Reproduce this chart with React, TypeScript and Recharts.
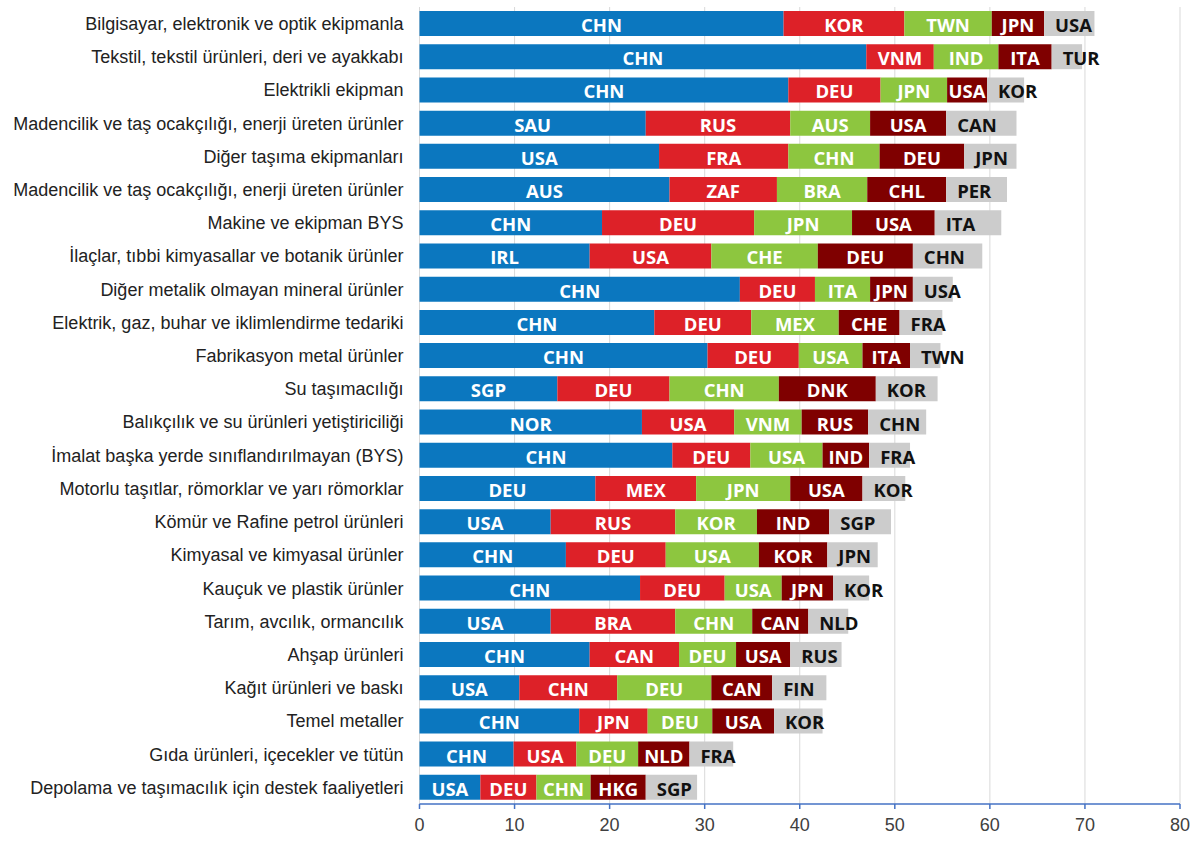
import { BarChart, Bar, XAxis, YAxis, CartesianGrid, LabelList } from "recharts";

const categories = [
    "Bilgisayar, elektronik ve optik ekipmanla",
    "Tekstil, tekstil ürünleri, deri ve ayakkabı",
    "Elektrikli ekipman",
    "Madencilik ve taş ocakçılığı, enerji üreten ürünler",
    "Diğer taşıma ekipmanları",
    "Madencilik ve taş ocakçılığı, enerji üreten ürünler ",
    "Makine ve ekipman BYS",
    "İlaçlar, tıbbi kimyasallar ve botanik ürünler",
    "Diğer metalik olmayan mineral ürünler",
    "Elektrik, gaz, buhar ve iklimlendirme tedariki",
    "Fabrikasyon metal ürünler",
    "Su taşımacılığı",
    "Balıkçılık ve su ürünleri yetiştiriciliği",
    "İmalat başka yerde sınıflandırılmayan (BYS)",
    "Motorlu taşıtlar, römorklar ve yarı römorklar",
    "Kömür ve Rafine petrol ürünleri",
    "Kimyasal ve kimyasal ürünler",
    "Kauçuk ve plastik ürünler",
    "Tarım, avcılık, ormancılık",
    "Ahşap ürünleri",
    "Kağıt ürünleri ve baskı",
    "Temel metaller",
    "Gıda ürünleri, içecekler ve tütün",
    "Depolama ve taşımacılık için destek faaliyetleri",
];

// share of the 1st..5th largest exporter
const first = [38.3, 47.0, 38.8, 23.8, 25.2, 26.3, 19.2, 17.9, 33.7, 24.7, 30.3, 14.5, 23.4, 26.6, 18.5, 13.8, 15.4, 23.2, 13.8, 17.9, 10.5, 16.8, 9.9, 6.4];
const second = [12.7, 7.1, 9.7, 15.2, 13.6, 11.3, 16.0, 12.8, 7.9, 10.2, 9.6, 11.8, 9.7, 8.2, 10.6, 13.1, 10.5, 8.9, 13.1, 9.4, 10.3, 7.2, 6.6, 5.9];
const third = [9.2, 6.8, 7.0, 8.4, 9.6, 9.5, 10.3, 11.2, 5.8, 9.2, 6.7, 11.5, 7.1, 7.6, 9.9, 8.6, 9.8, 6.0, 8.1, 6.0, 9.9, 6.8, 6.5, 5.7];
const fourth = [5.5, 5.6, 4.2, 8.0, 8.9, 8.3, 8.7, 10.0, 4.5, 6.4, 5.0, 10.2, 7.0, 4.9, 7.6, 7.6, 7.2, 5.4, 5.9, 5.7, 6.4, 6.5, 5.4, 5.8];
const fifth = [5.3, 3.2, 3.9, 7.4, 5.5, 6.4, 7.0, 7.3, 4.2, 4.5, 3.2, 6.5, 6.1, 4.3, 4.5, 6.5, 5.3, 3.8, 4.2, 5.4, 5.7, 5.1, 4.6, 5.4];

const firstCountry = ["CHN", "CHN", "CHN", "SAU", "USA", "AUS", "CHN", "IRL", "CHN", "CHN", "CHN", "SGP", "NOR", "CHN", "DEU", "USA", "CHN", "CHN", "USA", "CHN", "USA", "CHN", "CHN", "USA"];
const secondCountry = ["KOR", "VNM", "DEU", "RUS", "FRA", "ZAF", "DEU", "USA", "DEU", "DEU", "DEU", "DEU", "USA", "DEU", "MEX", "RUS", "DEU", "DEU", "BRA", "CAN", "CHN", "JPN", "USA", "DEU"];
const thirdCountry = ["TWN", "IND", "JPN", "AUS", "CHN", "BRA", "JPN", "CHE", "ITA", "MEX", "USA", "CHN", "VNM", "USA", "JPN", "KOR", "USA", "USA", "CHN", "DEU", "DEU", "DEU", "DEU", "CHN"];
const fourthCountry = ["JPN", "ITA", "USA", "USA", "DEU", "CHL", "USA", "DEU", "JPN", "CHE", "ITA", "DNK", "RUS", "IND", "USA", "IND", "KOR", "JPN", "CAN", "USA", "CAN", "USA", "NLD", "HKG"];
const fifthCountry = ["USA", "TUR", "KOR", "CAN", "JPN", "PER", "ITA", "CHN", "USA", "FRA", "TWN", "KOR", "CHN", "FRA", "KOR", "SGP", "JPN", "KOR", "NLD", "RUS", "FIN", "KOR", "FRA", "SGP"];

const xTicks = [0, 10, 20, 30, 40, 50, 60, 70, 80];

const rows = categories.map((name, i) => ({
    name,
    s1: first[i],
    s2: second[i],
    s3: third[i],
    s4: fourth[i],
    s5: fifth[i],
    c1: firstCountry[i],
    c2: secondCountry[i],
    c3: thirdCountry[i],
    c4: fourthCountry[i],
    c5: fifthCountry[i],
}));

const labelFont = "'Open Sans', 'Noto Sans', sans-serif";

function centerLabel(props: any) {
    const { x, y, width, height, value } = props;
    return (
        <text
            x={x + width / 2}
            y={y + height / 2 + 1}
            textAnchor="middle"
            dominantBaseline="central"
            fill="#ffffff"
            fontFamily={labelFont}
            fontWeight={700}
            fontSize={18.5}
        >
            {value}
        </text>
    );
}

function baseLabel(props: any) {
    const { x, y, height, value } = props;
    return (
        <text
            x={x + 11}
            y={y + height / 2 + 1}
            textAnchor="start"
            dominantBaseline="central"
            fill="#111111"
            fontFamily={labelFont}
            fontWeight={700}
            fontSize={18.5}
        >
            {value}
        </text>
    );
}

const series = [
    { key: "s1", label: "c1", color: "#0b77bf" },
    { key: "s2", label: "c2", color: "#dd2128" },
    { key: "s3", label: "c3", color: "#8dc63f" },
    { key: "s4", label: "c4", color: "#7f0000" },
    { key: "s5", label: "c5", color: "#cccccc" },
];

export default function App() {
    return (
        <div style={{ position: "absolute", left: 0, top: 0, width: 1196, height: 844, background: "#ffffff" }}>
            <BarChart
                width={1196}
                height={844}
                data={rows}
                layout="vertical"
                barSize={25}
                margin={{ top: 7, right: 16, left: 0, bottom: 0 }}
            >
                <CartesianGrid vertical={true} horizontal={false} stroke="#d9d9d9" />
                <XAxis
                    type="number"
                    domain={[0, 80]}
                    ticks={xTicks}
                    height={40}
                    axisLine={{ stroke: "#4472c4", strokeWidth: 1.5 }}
                    tickLine={{ stroke: "#4472c4", strokeWidth: 1.5 }}
                    tickSize={5}
                    tickMargin={9}
                    tick={{ fill: "#404040", fontSize: 18, fontFamily: "'Liberation Sans', Arial, sans-serif" }}
                />
                <YAxis
                    type="category"
                    dataKey="name"
                    width={419.5}
                    axisLine={false}
                    tickLine={false}
                    tickSize={0}
                    tickMargin={16}
                    interval={0}
                    tick={{ fill: "#222222", fontSize: 18, fontFamily: "'Liberation Sans', Arial, sans-serif" }}
                />
                {series.map((s, i) => (
                    <Bar key={s.key} dataKey={s.key} stackId="a" fill={s.color} isAnimationActive={false}>
                        <LabelList dataKey={s.label} content={i < 4 ? centerLabel : baseLabel} />
                    </Bar>
                ))}
            </BarChart>
        </div>
    );
}
